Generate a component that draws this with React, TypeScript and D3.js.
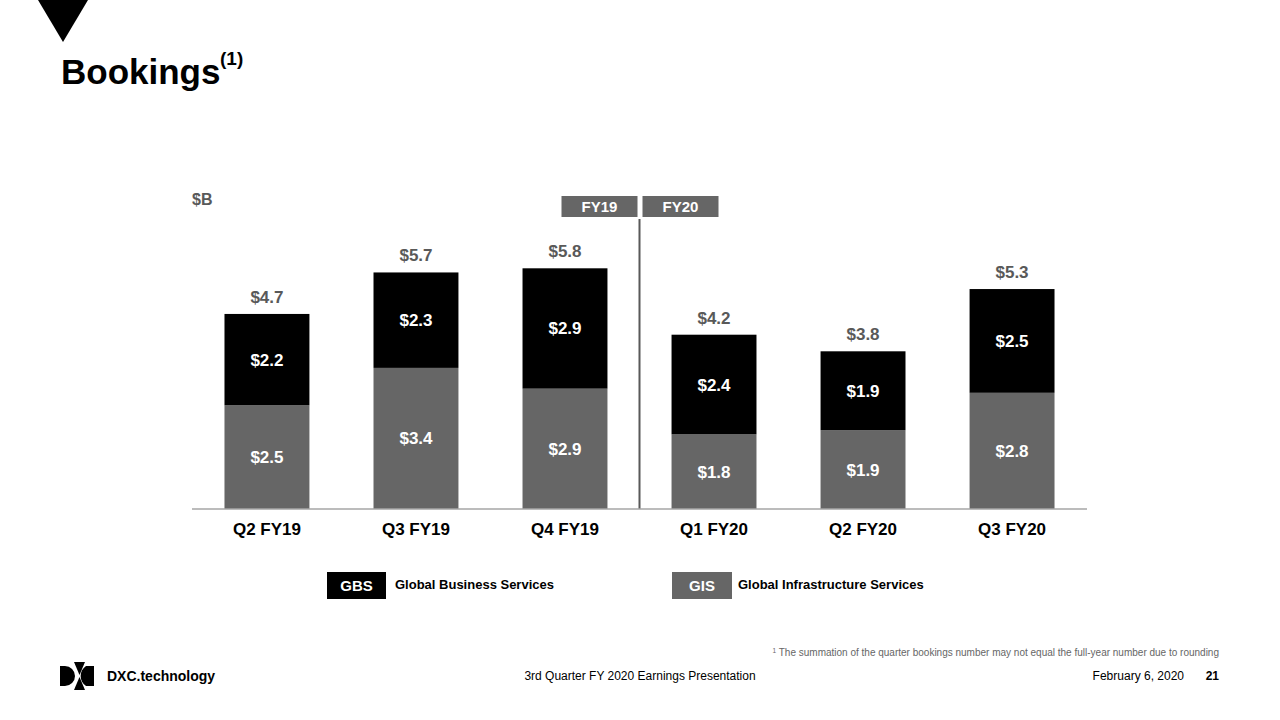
import React from "react";
import * as d3 from "d3";

const categories = ["Q2 FY19", "Q3 FY19", "Q4 FY19", "Q1 FY20", "Q2 FY20", "Q3 FY20"];
const gisValues = [2.5, 3.4, 2.9, 1.8, 1.9, 2.8];
const gbsValues = [2.2, 2.3, 2.9, 2.4, 1.9, 2.5];
const totalValues = [4.7, 5.7, 5.8, 4.2, 3.8, 5.3];
const fiscalLabels = ["FY19", "FY20"];

const FONT = "'Liberation Sans', Arial, Helvetica, sans-serif";
const GIS_COLOR = "#666666";
const GBS_COLOR = "#000000";
const LABEL_GRAY = "#595959";

export default function App() {
  const W = 1280;
  const H = 720;
  const baseY = 509;
  const x = d3
    .scaleBand<string>()
    .domain(categories)
    .range([192, 1087])
    .paddingInner(0.43)
    .paddingOuter(0.218);
  const y = d3.scaleLinear().domain([0, 6]).range([baseY, baseY - 41.5 * 6]);

  const rows = categories.map((c, i) => ({ c, gis: gisValues[i], gbs: gbsValues[i], total: totalValues[i] }));
  const stack = d3.stack<any>().keys(["gis", "gbs"])(rows as any);
  const colors: Record<string, string> = { gis: GIS_COLOR, gbs: GBS_COLOR };

  const bw = x.bandwidth();
  const divX = ((x(categories[2]) as number) + bw + (x(categories[3]) as number)) / 2;
  const fmt = (v: number) => "$" + d3.format(".1f")(v);

  return (
    <svg width={W} height={H} style={{ position: "absolute", left: 0, top: 0, background: "#fff" }} fontFamily={FONT}>
      <rect x={0} y={0} width={W} height={H} fill="#fff" />
      {/* corner triangle */}
      <path d="M38,0 L88,0 L63,42 Z" fill="#000" />
      {/* title */}
      <text x={61} y={84} fontSize={35} fontWeight="bold" fill="#000">
        Bookings
      </text>
      <text x={220} y={65} fontSize={19} fontWeight="bold" fill="#000">
        (1)
      </text>

      {/* unit */}
      <text x={192} y={205} fontSize={16} fontWeight="bold" fill={LABEL_GRAY}>
        $B
      </text>

      {/* fiscal year boxes */}
      {fiscalLabels.map((f, i) => {
        const bx = i === 0 ? divX - 78 : divX + 3;
        return (
          <g key={f}>
            <rect x={bx} y={196} width={76} height={21} fill={GIS_COLOR} />
            <text x={bx + 38} y={212} textAnchor="middle" fontSize={15} fontWeight="bold" fill="#fff">
              {f}
            </text>
          </g>
        );
      })}
      <line x1={divX} x2={divX} y1={219} y2={baseY} stroke={LABEL_GRAY} strokeWidth={2} />

      {/* bars */}
      {stack.map((layer: any) => (
        <g key={layer.key}>
          {layer.map((d: any, i: number) => {
            const bx = x(categories[i]) as number;
            const y0 = y(d[0]);
            const y1 = y(d[1]);
            const val = d[1] - d[0];
            return (
              <g key={i}>
                <rect x={bx} y={y1} width={bw} height={y0 - y1} fill={colors[layer.key]} />
                <text
                  x={bx + bw / 2}
                  y={(y0 + y1) / 2 + 6}
                  textAnchor="middle"
                  fontSize={17}
                  fontWeight="bold"
                  fill="#fff"
                >
                  {fmt(val)}
                </text>
              </g>
            );
          })}
        </g>
      ))}

      {/* totals */}
      {rows.map((r) => (
        <text
          key={r.c}
          x={(x(r.c) as number) + bw / 2}
          y={y(r.total) - 11}
          textAnchor="middle"
          fontSize={17}
          fontWeight="bold"
          fill={LABEL_GRAY}
        >
          {fmt(r.total)}
        </text>
      ))}

      {/* axis */}
      <line x1={192} x2={1087} y1={baseY} y2={baseY} stroke="#a6a6a6" strokeWidth={1.5} />
      {categories.map((c) => (
        <text
          key={c}
          x={(x(c) as number) + bw / 2}
          y={535}
          textAnchor="middle"
          fontSize={17}
          fontWeight="bold"
          fill="#000"
        >
          {c}
        </text>
      ))}

      {/* legend */}
      <rect x={327} y={572} width={59} height={27} fill={GBS_COLOR} />
      <text x={356.5} y={591} textAnchor="middle" fontSize={15} fontWeight="bold" fill="#fff">
        GBS
      </text>
      <text x={395} y={589} fontSize={13} fontWeight="bold" fill="#000">
        Global Business Services
      </text>
      <rect x={672} y={572} width={60} height={27} fill={GIS_COLOR} />
      <text x={702} y={591} textAnchor="middle" fontSize={15} fontWeight="bold" fill="#fff">
        GIS
      </text>
      <text x={738} y={589} fontSize={13} fontWeight="bold" fill="#000">
        Global Infrastructure Services
      </text>

      {/* footnote */}
      <text x={1219} y={656} textAnchor="end" fontSize={10} fill="#666">
        <tspan fontSize={6.5} dy={-3}>1</tspan>
        <tspan dy={3}> The summation of the quarter bookings number may not equal the full-year number due to rounding</tspan>
      </text>

      {/* footer */}
      <text x={640} y={680} textAnchor="middle" fontSize={12} fill="#000">
        3rd Quarter FY 2020 Earnings Presentation
      </text>
      <text x={1184} y={680} textAnchor="end" fontSize={12} fill="#000">
        February 6, 2020
      </text>
      <text x={1219} y={680} textAnchor="end" fontSize={12} fontWeight="bold" fill="#000">
        21
      </text>

      {/* logo */}
      <path d="M60,666 L65,666 A10,10 0 0 1 65,686 L60,686 Z" fill="#000" />
      <path d="M74,662 L85,662 L79.5,675 Z" fill="#000" />
      <path d="M74,690 L85,690 L79.5,677 Z" fill="#000" />
      <path d="M94,666 L86,666 A12,12 0 0 0 86,686 L94,686 Z" fill="#000" />
      <text x={107} y={681} fontSize={14} fontWeight="bold" fill="#000">
        DXC.technology
      </text>
    </svg>
  );
}
